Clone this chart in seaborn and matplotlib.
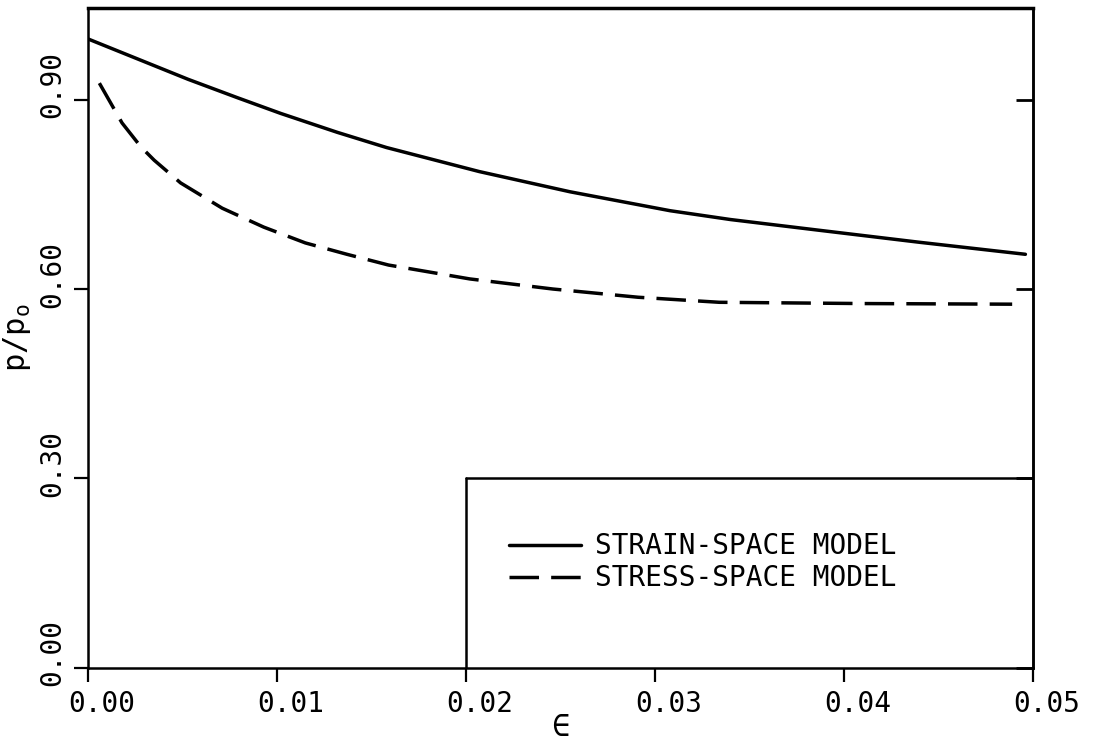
import numpy as np
import pandas as pd
import seaborn as sns
import matplotlib.pyplot as plt
import matplotlib.transforms as mtransforms

# values
strain_eps = [0.0, 0.0053, 0.0079, 0.0102, 0.0132, 0.0158, 0.0207, 0.0255,
              0.0308, 0.0340, 0.0387, 0.0440, 0.0496]
strain_p = [0.996, 0.932, 0.903, 0.878, 0.848, 0.824, 0.786, 0.754,
            0.724, 0.710, 0.693, 0.674, 0.655]

stress_eps = [0.0006, 0.0018, 0.0028, 0.0035, 0.0049, 0.0071, 0.0093, 0.0115,
              0.0137, 0.0159, 0.0202, 0.0246, 0.0291, 0.0334, 0.0410, 0.0489]
stress_p = [0.926, 0.863, 0.825, 0.804, 0.768, 0.728, 0.698, 0.673,
            0.655, 0.638, 0.616, 0.600, 0.587, 0.579, 0.577, 0.576]

x_ticks = [0.00, 0.01, 0.02, 0.03, 0.04, 0.05]
x_labels = ['0.00', '0.01', '0.02', '0.03', '0.04', '0.05']
y_ticks = [0.00, 0.30, 0.60, 0.90]
y_labels = ['0.00', '0.30', '0.60', '0.90']

strain_df = pd.DataFrame({'eps': strain_eps, 'p': strain_p})
stress_df = pd.DataFrame({'eps': stress_eps, 'p': stress_p})

sns.set_style('ticks', {'axes.edgecolor': 'black', 'text.color': 'black',
                        'xtick.color': 'black', 'ytick.color': 'black',
                        'axes.labelcolor': 'black'})
plt.rcParams['font.family'] = ['DejaVu Sans Mono', 'DejaVu Sans']

fig = plt.figure(figsize=(11.03, 7.46), dpi=100)
ax = fig.add_axes([0.0798, 0.1046, 0.8567, 0.8847])

sns.lineplot(data=strain_df, x='eps', y='p', color='black', linewidth=2.5,
             label='STRAIN-SPACE MODEL', ax=ax)
sns.lineplot(data=stress_df, x='eps', y='p', color='black', linewidth=2.5,
             label='STRESS-SPACE MODEL', ax=ax)
ax.lines[1].set_dashes((8.5, 3.5))

ax.set_xlim(0, 0.05)
ax.set_ylim(0, 1.045)

# legend box drawn as two edges inside the axes
ax.axvline(0.02, ymax=0.30 / 1.045, color='black', linewidth=1.8)
ax.axhline(0.30, xmin=0.4, color='black', linewidth=1.8)

ax.set_xticks(x_ticks)
ax.set_xticklabels(x_labels, fontsize=20)
ax.set_yticks(y_ticks)
ax.set_yticklabels(y_labels, fontsize=20, rotation=90, va='center')
ax.tick_params(axis='both', direction='out', length=10, width=1.6, pad=6,
               colors='black')

right = ax.secondary_yaxis('right')
right.set_yticks(y_ticks)
right.set_yticklabels([])
right.tick_params(direction='in', length=12, width=2, colors='black')
right.spines['right'].set_linewidth(1.8)
right.spines['right'].set_color('black')

# labels sit slightly off their ticks, as in the plotter output
dx = mtransforms.ScaledTranslation(14 / 100, 0, fig.dpi_scale_trans)
for lbl in ax.get_xticklabels():
    lbl.set_transform(lbl.get_transform() + dx)
dy = mtransforms.ScaledTranslation(0, 15 / 100, fig.dpi_scale_trans)
for lbl in ax.get_yticklabels():
    lbl.set_transform(lbl.get_transform() + dy)

for side in ['top', 'bottom', 'left', 'right']:
    ax.spines[side].set_visible(True)
    ax.spines[side].set_linewidth(1.8)
    ax.spines[side].set_color('black')
ax.spines['top'].set_linewidth(2.5)

ax.set_xlabel('\u2208', fontsize=22)
ax.xaxis.set_label_coords(0.5, -0.068)
ax.set_ylabel('p/p$_\\mathregular{o}$', fontsize=22)
ax.yaxis.set_label_coords(-0.058, 0.5)

leg = ax.legend(loc='center left', bbox_to_anchor=(0.445, 0.16), frameon=False,
                fontsize=20, handlelength=2.6, handletextpad=0.5,
                labelspacing=0.15, borderpad=0, borderaxespad=0)

plt.savefig('out.png', dpi=100)
